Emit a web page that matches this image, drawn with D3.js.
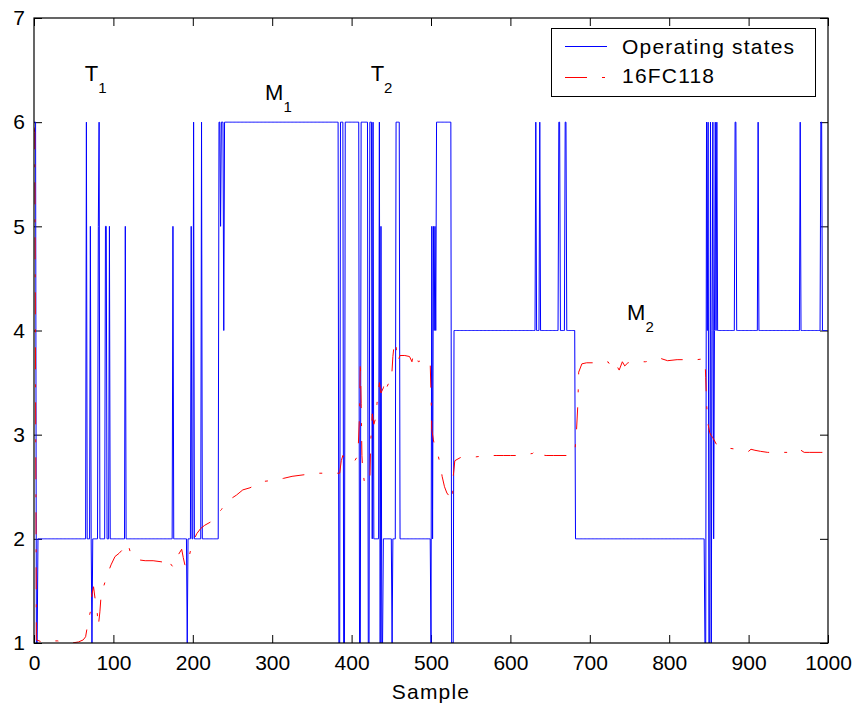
<!DOCTYPE html>
<html>
<head>
<meta charset="utf-8">
<script src="https://cdn.jsdelivr.net/npm/d3@7"></script>
<style>
  html, body { margin: 0; padding: 0; background: #fff; }
  svg { display: block; font-family: "Liberation Sans", Arial, Helvetica, sans-serif; }
</style>
</head>
<body>
<svg id="chart" width="857" height="707"></svg>
<script>
// ---- data ----
const xTicks = [0, 100, 200, 300, 400, 500, 600, 700, 800, 900, 1000];
const yTicks = [1, 2, 3, 4, 5, 6, 7];
const seriesNames = ["Operating states", "16FC118"];
const xLabel = "Sample";

// Operating state per sample, stored as runs: [first sample, state]
const stateRuns = [
  [0, 6], [3, 1], [5, 2],
  [66, 6], [67, 2],
  [71, 5], [72, 2], [73, 1], [74, 2],
  [81, 5], [82, 6], [83, 2],
  [90, 5], [92, 2],
  [95, 5], [96, 2],
  [115, 5], [116, 2],
  [175, 5], [176, 2],
  [193, 1], [194, 2],
  [198, 5], [199, 2], [201, 6], [202, 2],
  [211, 6], [212, 2],
  [233, 6], [235, 5], [236, 6], [239, 4], [240, 6],
  [384, 1], [386, 6],
  [390, 1], [392, 6],
  [410, 1], [412, 6],
  [421, 1], [423, 6],
  [426, 2], [427, 6], [428, 2],
  [435, 6], [436, 1], [437, 5], [438, 1], [440, 2],
  [451, 1], [452, 2],
  [456, 6], [461, 2],
  [500, 1], [501, 5], [502, 2], [503, 5], [504, 4], [505, 5], [506, 4], [507, 6],
  [526, 1], [529, 4],
  [632, 6], [633, 4], [637, 6], [638, 4],
  [661, 6], [663, 4], [669, 6], [671, 4],
  [682, 2],
  [845, 1], [847, 6], [848, 4], [849, 6], [850, 1], [852, 6], [853, 1], [854, 4],
  [855, 6], [856, 2], [857, 4], [858, 6], [859, 4], [860, 6], [861, 4],
  [883, 6], [885, 4],
  [912, 6], [913, 4],
  [965, 6], [966, 4],
  [991, 6], [993, 4]
];
const sampleCount = 1000;

// 16FC118 readings: [sample, value]
const flowPoints = [
  [0, 5.95], [1, 5.9], [3, 1.03], [10, 1.01], [20, 1.02], [30, 1.02], [38, 1.0], [48, 1.0],
  [56, 1.01], [62, 1.03], [65, 1.06], [69, 1.24], [71, 1.3], [73, 1.47], [75, 1.54], [77, 1.42],
  [79, 1.35], [81, 1.16], [83, 1.3], [85, 1.51], [88, 1.55], [92, 1.65], [97, 1.75], [102, 1.83],
  [107, 1.86], [112, 1.9], [118, 1.96], [121, 1.88], [123, 1.83], [130, 1.8], [140, 1.79],
  [150, 1.79], [160, 1.78], [167, 1.77], [170, 1.72], [172, 1.76], [175, 1.73], [178, 1.8],
  [182, 1.85], [186, 1.9], [188, 1.82], [190, 1.75], [194, 1.74], [196, 1.85], [199, 1.95],
  [205, 2.05], [210, 2.1], [215, 2.13], [222, 2.16], [226, 2.2], [232, 2.25], [236, 2.28],
  [240, 2.33], [244, 2.35], [247, 2.38], [255, 2.42], [263, 2.47], [272, 2.49], [280, 2.52],
  [287, 2.55], [300, 2.56], [314, 2.58], [325, 2.6], [335, 2.61], [345, 2.62], [360, 2.63],
  [375, 2.63], [385, 2.63], [387, 2.75], [389, 2.8], [391, 2.76], [395, 2.74], [400, 2.73],
  [404, 2.75], [408, 2.8], [410, 3.2], [411, 3.72], [412, 3.3], [413, 2.8], [414, 2.66],
  [416, 2.55], [420, 2.52], [423, 2.55], [424, 2.92], [426, 3.2], [428, 3.1], [430, 3.15],
  [432, 3.3], [435, 3.5], [437, 3.4], [440, 3.45], [442, 3.52], [444, 3.45], [447, 3.5],
  [450, 3.5], [452, 3.75], [454, 3.9], [456, 3.85], [458, 3.7], [461, 3.76], [467, 3.76],
  [473, 3.75], [476, 3.7], [478, 3.78], [481, 3.78], [484, 3.7], [490, 3.72], [496, 3.72],
  [499, 3.69], [500, 3.4], [501, 3.05], [503, 2.95], [506, 2.85], [509, 2.8], [512, 2.7],
  [514, 2.6], [517, 2.5], [520, 2.44], [524, 2.4], [527, 2.36], [528, 2.6], [530, 2.75],
  [537, 2.78], [549, 2.78], [560, 2.79], [570, 2.8], [583, 2.8], [591, 2.8], [600, 2.8],
  [612, 2.8], [620, 2.81], [628, 2.82], [632, 2.85], [634, 2.81], [645, 2.8], [654, 2.8],
  [665, 2.8], [675, 2.8], [681, 2.82], [683, 3.0], [685, 3.3], [686, 3.6], [690, 3.68],
  [696, 3.69], [707, 3.69], [715, 3.68], [723, 3.7], [727, 3.65], [731, 3.62], [734, 3.66],
  [737, 3.62], [741, 3.7], [744, 3.66], [748, 3.69], [755, 3.7], [760, 3.7], [770, 3.7],
  [778, 3.71], [785, 3.71], [790, 3.73], [798, 3.71], [810, 3.72], [820, 3.72], [826, 3.72],
  [835, 3.72], [845, 3.73], [846, 3.55], [847, 3.3], [849, 3.1], [851, 3.02], [853, 2.99],
  [855, 2.97], [860, 2.9], [866, 2.89], [875, 2.87], [885, 2.86], [895, 2.85], [900, 2.84],
  [903, 2.86], [908, 2.85], [915, 2.84], [924, 2.83], [936, 2.83], [945, 2.83], [955, 2.83],
  [960, 2.84], [963, 2.86], [966, 2.85], [970, 2.83], [977, 2.83], [990, 2.83], [999, 2.83]
];

// Region annotations: name, subscript, anchor in data coordinates
const regionNames = ["T", "M", "T", "M"];
const regionSubs = ["1", "1", "2", "2"];
const regionSamples = [64, 291, 424, 747];
const regionValues = [6.40, 6.21, 6.40, 4.10];

(function draw() {
  // expand runs to one value per sample
  const states = [];
  stateRuns.forEach(([start, v], k) => {
    const end = k + 1 < stateRuns.length ? stateRuns[k + 1][0] : sampleCount;
    for (let i = start; i < end; i++) states.push([i, v]);
  });

  const svg = d3.select("#chart");
  const plotLeft = 34, plotRight = 828, plotTop = 18, plotBottom = 643;
  const x = d3.scaleLinear().domain([0, 1000]).range([plotLeft, plotRight]);
  const y = d3.scaleLinear().domain([1, 7]).range([plotBottom, plotTop]);
  const tickLen = 8;
  const fontSize = 21;
  const intFmt = d3.format("d");

  svg.append("defs").append("clipPath").attr("id", "plotClip")
    .append("rect").attr("x", plotLeft).attr("y", plotTop)
    .attr("width", plotRight - plotLeft).attr("height", plotBottom - plotTop);

  // axes with inward ticks on all four sides
  const axisStyle = g => {
    g.select(".domain").remove();
    g.selectAll(".tick line").attr("stroke", "#000").attr("stroke-width", 1);
    g.selectAll(".tick text").attr("fill", "#000").attr("font-size", fontSize)
      .attr("font-family", "'Liberation Sans', Arial, sans-serif");
  };

  svg.append("g").attr("transform", `translate(0,${plotBottom})`)
    .call(d3.axisBottom(x).tickValues(xTicks).tickFormat(intFmt)
      .tickSizeInner(-tickLen).tickSizeOuter(0).tickPadding(12))
    .call(axisStyle);
  svg.append("g").attr("transform", `translate(0,${plotTop})`)
    .call(d3.axisTop(x).tickValues(xTicks).tickSizeInner(-tickLen).tickSizeOuter(0).tickFormat(""))
    .call(axisStyle);
  svg.append("g").attr("transform", `translate(${plotLeft},0)`)
    .call(d3.axisLeft(y).tickValues(yTicks).tickFormat(intFmt)
      .tickSizeInner(-tickLen).tickSizeOuter(0).tickPadding(9))
    .call(axisStyle);
  svg.append("g").attr("transform", `translate(${plotRight},0)`)
    .call(d3.axisRight(y).tickValues(yTicks).tickSizeInner(-tickLen).tickSizeOuter(0).tickFormat(""))
    .call(axisStyle);

  // series
  const line = d3.line().x(d => x(d[0])).y(d => y(d[1]));
  const plot = svg.append("g").attr("clip-path", "url(#plotClip)");
  plot.append("path").datum(states)
    .attr("d", line).attr("fill", "none").attr("stroke", "#0000ff").attr("stroke-width", 1);
  const dashDot = "22,15,3,15";
  plot.append("path").datum(flowPoints)
    .attr("d", line).attr("fill", "none").attr("stroke", "#ff0000").attr("stroke-width", 1)
    .attr("stroke-dasharray", dashDot);

  // plot frame
  svg.append("rect")
    .attr("x", plotLeft).attr("y", plotTop)
    .attr("width", plotRight - plotLeft).attr("height", plotBottom - plotTop)
    .attr("fill", "none").attr("stroke", "#000").attr("stroke-width", 1.2);

  // region annotations
  regionNames.forEach((name, i) => {
    const t = svg.append("text")
      .attr("x", x(regionSamples[i])).attr("y", y(regionValues[i]))
      .attr("font-size", 22).attr("fill", "#000");
    t.append("tspan").text(name);
    t.append("tspan").attr("dy", 12).attr("font-size", 15).text(regionSubs[i]);
  });

  // x label
  svg.append("text")
    .attr("x", (plotLeft + plotRight) / 2).attr("y", 699)
    .attr("text-anchor", "middle").attr("font-size", fontSize)
    .attr("letter-spacing", 1.2).text(xLabel);

  // legend
  const lg = svg.append("g");
  lg.append("rect").attr("x", 551.5).attr("y", 28.5).attr("width", 264).attr("height", 68)
    .attr("fill", "#fff").attr("stroke", "#000").attr("stroke-width", 1);
  const legendColors = ["#0000ff", "#ff0000"];
  const legendDash = [null, dashDot];
  const legendRows = [46.5, 77.5];
  const legendBase = [54, 83];
  seriesNames.forEach((name, i) => {
    lg.append("line").attr("x1", 565).attr("x2", 607)
      .attr("y1", legendRows[i]).attr("y2", legendRows[i])
      .attr("stroke", legendColors[i]).attr("stroke-width", 1)
      .attr("stroke-dasharray", legendDash[i]);
    lg.append("text").attr("x", 622).attr("y", legendBase[i])
      .attr("font-size", fontSize).attr("letter-spacing", 1.2).attr("fill", "#000").text(name);
  });
})();
</script>
</body>
</html>
